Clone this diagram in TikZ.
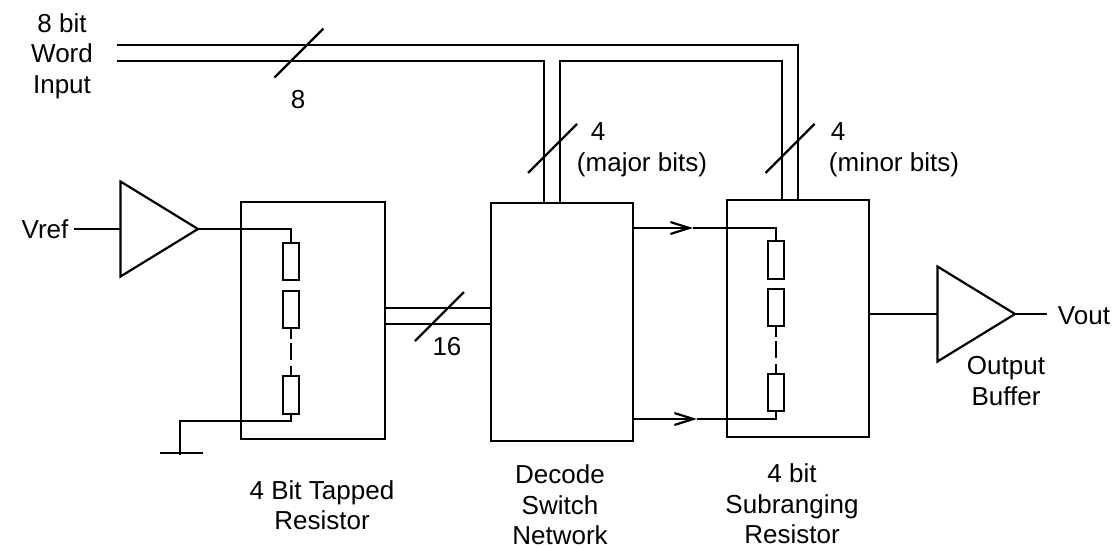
\documentclass[tikz,border=0pt]{standalone}
\usepackage{fontspec}
\setmainfont{Liberation Sans}
\usepackage{tikz}
\usetikzlibrary{shapes.geometric, arrows.meta}
\tikzset{
    wire/.style={line width=1.25pt},
    block/.style={draw, wire, rectangle, anchor=north west, inner sep=0, outer sep=0},
    resistor/.style={draw, wire, rectangle, inner sep=0, outer sep=0, minimum width=0.32cm, minimum height=0.75cm},
    amp/.style={draw, wire, isosceles triangle, isosceles triangle stretches, anchor=apex, inner sep=0, outer sep=0, minimum width=1.9cm, minimum height=1.55cm},
    lbl/.style={font=\fontsize{14.8}{17.4}\selectfont, align=center, inner sep=0.1cm},
    flow/.style={wire, -{Straight Barb[length=0.38cm, width=0.24cm]}},
    gap/.style={wire, dash pattern=on 0.22cm off 0.08cm on 0.34cm off 0.12cm on 0.2cm}
}
\begin{document}
\begin{tikzpicture}[x=0.02cm, y=-0.02cm, wire]
    \useasboundingbox (0,0) rectangle (1117,548);

    % blocks
    \node[block, minimum width=2.88cm, minimum height=4.74cm] (tapped) at (241,202) {};
    \node[block, minimum width=2.84cm, minimum height=4.76cm] (decode) at (491,203) {};
    \node[block, minimum width=2.84cm, minimum height=4.74cm] (subrange) at (727,200) {};

    % amplifiers
    \node[amp] (inamp) at (198,229) {};
    \node[amp] (outamp) at (1015,314) {};

    % resistor strings
    \node[resistor] (ra) at (291,261.5) {};
    \node[resistor] (rb) at (291,309.5) {};
    \node[resistor] (rc) at (291,395) {};
    \node[resistor] (sa) at (776,260) {};
    \node[resistor] (sb) at (776,307.5) {};
    \node[resistor] (sc) at (776,392.5) {};
    \draw[gap] (rb.south) -- (rc.north);
    \draw[gap] (sb.south) -- (sc.north);

    % labels
    \node[lbl] (wordin) at (62,56) {8 bit\\Word\\Input};
    \node[lbl] (eight) at (298,100) {8};
    \node[lbl] (vref) at (45,229) {Vref};
    \node[lbl] (four) at (598,132) {4};
    \node[lbl] (major) at (642,165) {(major bits)};
    \node[lbl] (fourb) at (838,132) {4};
    \node[lbl] (minor) at (894,165) {(minor bits)};
    \node[lbl] (sixteen) at (447,347) {16};
    \node[lbl] (tappedlbl) at (322,505) {4 Bit Tapped\\Resistor};
    \node[lbl, inner sep=0] (decodelbl) at (560,505) {Decode\\Switch\\Network};
    \node[lbl, inner sep=0] (subrangelbl) at (792,504) {4 bit\\Subranging\\Resistor};
    \node[lbl] (outlbl) at (1006,381) {Output\\Buffer};
    \node[lbl, inner sep=0.2cm] (vout) at (1084,316) {Vout};

    % input side
    \draw (vref.east) -- (inamp.west);
    \draw (inamp.apex) -| (ra.north);
    \coordinate (gndbend) at (180,421);
    \coordinate (gnd) at (180,455);
    \draw (rc.south) |- (gndbend) -- (gnd);
    \draw ([shift={(-20,-2)}]gnd) -- ([shift={(23,-2)}]gnd);

    % word bus
    \coordinate (wordhi) at (117,45);
    \coordinate (wordlo) at (117,61);
    \coordinate (subhi) at (798,200);
    \coordinate (sublo) at (782,200);
    \coordinate (decleft) at (544,203);
    \coordinate (decright) at (560,203);
    \coordinate (turn) at (560,61);
    \draw (wordhi) -| (subhi);
    \draw (wordlo) -| (decleft);
    \draw (decright) -- (turn) -| (sublo);

    % 16 line bus
    \coordinate (busa) at (385,308);
    \coordinate (busb) at (385,324);
    \draw (busa) -- (busa -| decode.west);
    \draw (busb) -- (busb -| decode.west);

    % bus ticks
    \coordinate (tickw) at (299,53);
    \coordinate (tickd) at (552.5,148.5);
    \coordinate (ticks) at (790,148.5);
    \coordinate (tickb) at (439.5,316.5);
    \draw ([shift={(-24.5,24.5)}]tickw) -- ([shift={(24.5,-24.5)}]tickw);
    \draw ([shift={(-24.5,24.5)}]tickd) -- ([shift={(24.5,-24.5)}]tickd);
    \draw ([shift={(-24.5,24.5)}]ticks) -- ([shift={(24.5,-24.5)}]ticks);
    \draw ([shift={(-24.5,24.5)}]tickb) -- ([shift={(24.5,-24.5)}]tickb);

    % decode to subranging
    \coordinate (tipa) at (693,228);
    \coordinate (tipb) at (697,419);
    \draw[flow] (tipa -| decode.east) -- (tipa);
    \draw[flow] (tipb -| decode.east) -- (tipb);
    \draw (tipa) -| (sa.north);
    \draw (tipb) -| (sc.south);

    % output side
    \draw (outamp.west -| subrange.east) -- (outamp.west);
    \draw (outamp.apex) -- (outamp.apex -| vout.west);
\end{tikzpicture}
\end{document}
